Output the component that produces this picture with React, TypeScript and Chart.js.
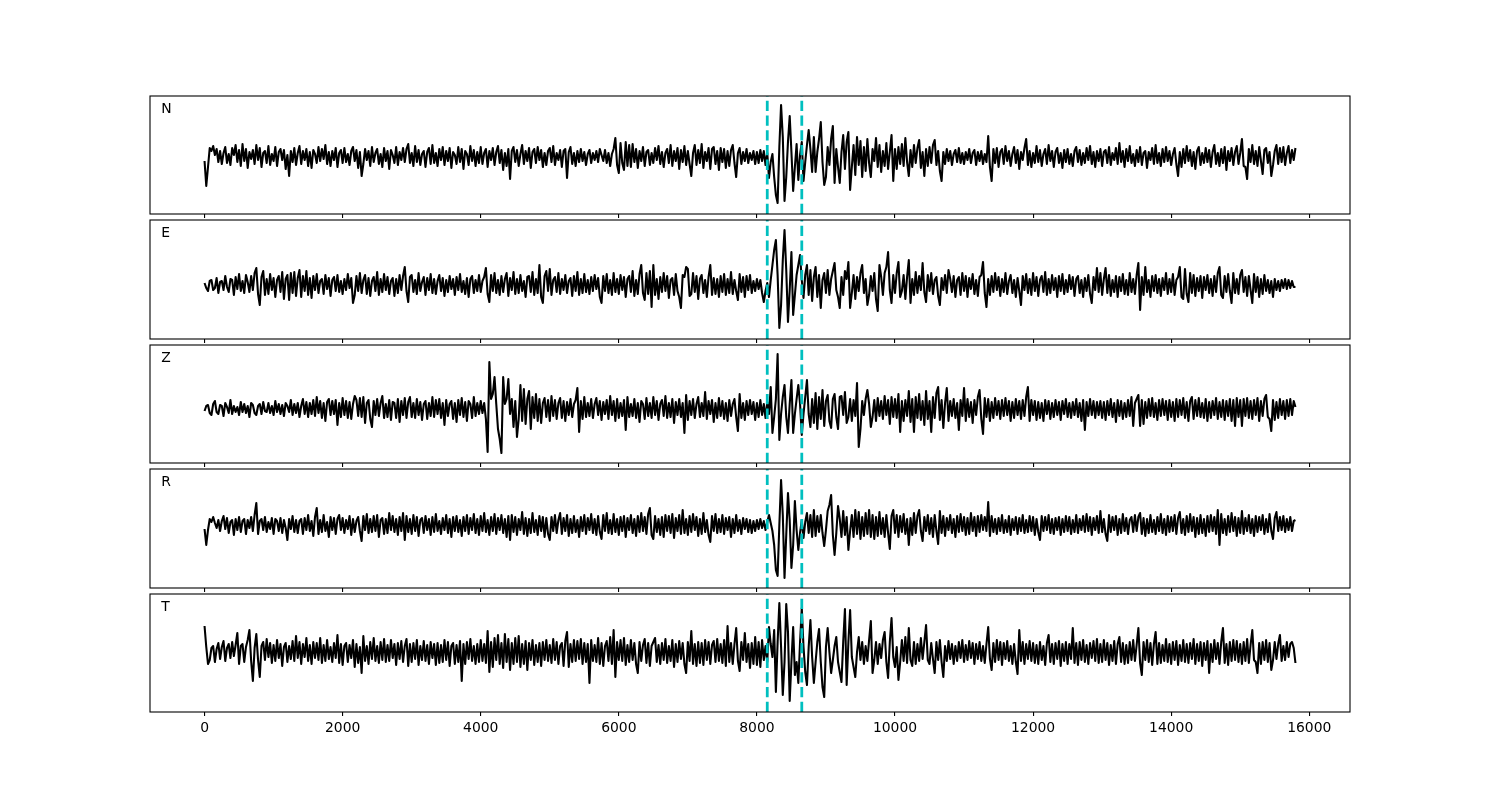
import React, { useEffect, useRef } from "react";
import { Chart, registerables } from "chart.js";

Chart.register(...registerables);

// ---- data ----
const SAMPLE_STEP = 25; // data units between samples
const pickTimes = [8150, 8650];
const xTicks = [0, 2000, 4000, 6000, 8000, 10000, 12000, 14000, 16000];
const panelNames = ["N", "E", "Z", "R", "T"];

const traceN = [
  -4,-29,-10,9,6,11,2,8,-5,6,-7,4,10,-6,3,-8,9,2,12,-5,
  7,-9,13,-4,8,-11,5,-2,7,-7,12,-3,9,-10,4,6,-6,11,-8,3,
  -4,10,-9,5,8,-3,7,-12,2,-19,6,-5,9,-8,4,11,-7,6,-3,8,
  -9,5,-11,7,3,-6,10,-4,8,-2,12,-7,5,-9,6,-3,9,-10,4,7,
  -6,9,-5,3,-8,6,10,-4,7,-11,5,-19,-7,8,-3,6,-9,10,-5,4,
  8,-7,3,-10,9,-4,6,-12,7,2,-6,10,-8,5,-3,9,-5,8,13,-6,
  4,-9,11,-5,7,-8,3,6,-10,5,9,-7,12,-6,4,-9,8,-3,10,-8,
  6,-4,9,-11,5,2,-7,10,-5,8,-12,6,3,-8,11,-4,7,-9,5,-6,
  10,-7,4,8,-10,6,-3,9,-8,5,11,-6,7,-13,4,-9,8,-22,6,10,
  -5,7,-9,3,12,-7,6,-4,9,-11,5,8,-6,10,-3,7,-10,4,-8,6,
  9,-5,11,-8,4,-3,7,-10,6,8,-21,5,10,-7,4,-9,6,-5,8,-4,
  5,-8,3,7,-6,4,-3,6,-5,8,2,-4,7,-6,4,-9,3,8,19,-8,
  -16,14,-6,-13,15,-9,12,-10,13,-5,8,-11,6,-4,10,-9,5,7,-8,4,
  -6,9,-3,11,-7,5,-10,4,8,-6,12,-9,6,-4,9,-12,7,-5,11,-8,
  6,-7,-19,4,12,-8,7,-6,13,-11,5,-4,9,-12,8,10,-7,6,-13,9,
  -5,8,-11,6,-9,7,12,-6,-20,4,9,-7,5,-4,8,-6,4,-3,6,-7,
  5,-6,7,-4,6,-8,4,-21,-5,3,-20,-38,-46,10,52,20,-44,-20,15,41,
  5,-34,-10,13,-23,2,15,-24,-5,12,27,8,-15,20,-15,5,18,35,-5,-28,
  -20,10,-8,18,31,-26,8,-10,-26,5,22,-12,15,25,-33,-10,12,-18,20,-8,
  16,-20,10,-14,18,-6,-20,8,-4,19,-10,12,-15,6,-9,14,-12,5,22,-24,
  8,-12,10,-7,13,-9,19,-5,-19,7,-10,12,-6,9,17,-11,5,-19,8,-9,
  10,-6,12,17,-8,6,-14,-24,5,-7,8,-4,6,-8,3,7,-5,9,-6,4,
  -7,5,-3,8,-6,4,7,-8,5,-4,6,-7,3,-5,21,-10,-24,8,-6,9,
  -10,5,8,-7,11,-4,6,-9,3,10,-6,7,-12,5,-3,9,18,-8,6,-10,
  4,-6,11,-5,7,-9,3,8,-7,12,-4,6,-10,5,9,-6,4,-11,7,-5,
  8,-7,3,-9,6,10,-5,7,-8,4,-6,9,-3,11,-7,5,-10,6,-4,8,
  -9,5,7,-6,10,-8,4,-3,9,-7,14,-5,6,-10,8,-4,11,-6,3,-9,
  7,-5,10,-8,4,6,-11,5,-3,9,-7,12,-6,4,-9,8,-5,10,-4,6,
  -8,3,9,-7,-19,5,-10,8,-6,11,-4,7,-9,5,-12,6,10,-8,4,-6,
  9,-5,7,-10,5,12,-7,4,-9,8,-6,10,-13,6,-4,9,-8,5,11,-7,
  4,18,-9,-10,-22,8,-5,12,-7,6,-9,10,-4,-17,7,9,-6,5,-19,-8,
  6,12,-7,9,-5,10,-8,4,11,-6,7,-3,9,
];

const traceE = [
  2,-3,-6,4,5,-5,-3,7,-8,3,4,-5,9,-2,-7,6,5,-10,8,-4,
  11,-6,4,-8,10,3,-7,9,-5,12,17,-9,-20,8,14,-10,6,-9,11,-5,
  7,-12,5,9,-7,13,-14,6,10,-15,12,-8,13,-11,7,15,-12,9,-6,14,
  -10,7,-13,9,-5,11,-8,4,6,-9,10,-4,7,-11,5,8,-6,10,-7,4,
  -9,6,-5,11,-3,7,-18,-10,9,-6,12,-8,5,10,-9,7,-11,4,8,-6,
  13,-10,6,-7,11,-5,8,-9,4,7,-11,6,-8,10,-5,9,18,-6,-17,8,
  10,-7,5,-9,12,-6,3,8,-10,7,-5,11,-8,6,-9,4,10,-6,7,-11,
  5,-7,9,-4,6,-10,8,-5,11,-7,4,-9,7,-12,6,9,-8,5,-6,10,
  -7,4,8,17,-9,-17,10,-6,12,-8,5,-10,9,-7,6,12,-11,7,-5,13,
  -9,6,-8,10,-6,4,-12,8,9,-7,13,-10,6,-8,20,-12,-18,9,14,-6,
  16,-10,5,8,-7,12,-9,6,-5,10,-8,4,7,-11,9,-6,13,-10,6,-8,
  11,-7,5,-9,8,-6,10,-4,7,-12,-18,9,-6,11,-8,5,-10,12,-7,6,
  -9,10,-5,8,-12,6,9,-7,14,-11,5,-9,11,20,-8,-15,12,-9,14,-22,
  20,-10,6,-14,8,-7,12,-6,9,-13,5,7,-10,11,-6,-12,-23,10,8,18,
  16,-11,-9,12,-7,9,-14,6,10,-8,5,-12,8,20,-10,7,-9,6,-12,9,
  -7,11,-10,6,-8,13,-9,5,-6,-15,11,-7,8,-12,9,-5,10,-8,4,-6,
  6,-4,5,-8,-17,-6,2,-12,5,20,35,45,10,-43,-20,25,55,15,-37,-5,
  33,-30,-10,10,20,30,5,-13,10,20,-10,15,-16,8,18,-12,10,-23,5,12,
  -8,15,-10,6,14,22,-5,-12,-23,8,-10,14,6,23,-23,-8,10,-14,8,-6,
  12,20,-8,6,-20,-10,9,-6,12,-14,-26,20,8,-10,12,18,33,-5,-18,10,
  -8,12,23,-12,-6,10,-14,8,25,-18,6,-10,13,-8,9,-5,22,-7,-17,10,
  -6,12,-9,5,8,-11,-20,7,-5,10,-8,15,6,-7,9,-12,5,8,-10,12,
  -6,9,-12,7,-4,11,-9,5,-11,8,10,23,-8,-22,6,-10,9,-7,12,-5,
  8,-11,6,-7,12,-9,4,10,-8,5,-12,7,-6,-20,9,-5,11,-8,6,-10,
  12,-6,8,-11,5,9,-7,13,-10,6,-8,10,-5,7,-12,9,-6,11,-9,5,
  -7,10,-4,8,-11,6,9,-8,5,-12,7,-6,10,-9,-18,8,-5,17,-7,12,
  -10,6,17,-8,10,-11,5,-7,9,-12,8,-6,11,-9,5,-10,12,-7,6,-9,
  10,22,-25,8,-10,18,-7,5,-12,9,-6,10,-8,6,-11,7,-5,12,-9,6,
  -7,11,-10,5,8,18,-12,-14,16,-9,-17,12,-8,10,-11,7,-6,9,-13,8,
  -5,10,-8,6,-11,9,-7,12,18,-10,-13,9,-7,11,-6,-18,12,-8,6,-9,
  10,15,-7,8,-11,9,-5,-18,11,-7,8,-12,6,-9,10,-6,5,-8,4,-12,
  6,-5,4,-6,5,-3,6,-4,5,-3,4,-2,-2,
];

const traceZ = [
  -2,3,4,-4,-6,5,8,-3,-5,4,3,-7,6,2,-4,9,-5,3,-3,2,
  -6,7,-3,5,-4,3,-8,6,4,-4,-6,3,5,-5,7,-2,-3,6,-4,3,
  -6,8,-3,5,-5,4,-7,6,3,-3,9,-6,5,-4,6,-8,3,10,-5,7,
  -8,6,-5,9,-7,12,-4,8,-9,6,-12,7,10,-6,8,-5,9,-16,6,-8,
  11,-6,8,-9,7,-10,5,13,9,-7,11,-8,12,-14,6,9,-10,-18,8,-6,
  10,-7,6,13,-9,5,-8,9,-11,7,6,-9,10,-13,8,-6,11,-9,7,12,
  -8,6,-9,10,-6,7,-11,5,8,-10,6,-7,12,-8,9,-5,10,-9,6,-16,
  9,-7,5,8,-10,6,-13,9,-6,11,-8,7,-12,8,5,-9,12,-7,6,-5,
  8,-4,6,-10,-43,47,10,15,32,5,-20,-30,-44,32,5,10,30,-5,10,-18,
  8,-28,-10,24,-12,20,-15,10,18,-20,12,-9,15,-12,10,-14,6,11,-8,9,
  -12,13,-7,9,-10,6,11,-9,8,-12,7,-6,10,-8,5,9,21,-23,8,-10,
  12,-8,6,-7,10,-9,5,11,-6,8,-11,7,-5,9,-10,13,-6,8,-12,10,
  -9,6,-7,9,-21,12,-8,5,-7,10,-9,6,-13,8,5,-10,11,-7,6,-9,
  12,-6,8,-11,5,9,-7,13,-9,6,-8,10,-14,7,-6,10,-8,6,-24,14,
  -11,8,-6,10,-9,5,12,-8,6,-7,17,-10,8,-5,9,-13,6,-9,11,-7,
  8,-10,6,-12,9,-7,5,10,-8,-22,15,-9,6,-11,8,-6,9,-5,7,-11,
  6,-8,9,-6,5,-9,7,-5,22,-24,-8,10,55,-31,-5,12,24,-8,-24,5,
  29,-24,-5,10,24,5,-26,-5,12,29,-5,-18,10,-14,16,-20,12,-10,19,-17,
  8,14,-12,-19,10,15,-8,-20,12,13,-6,17,-14,-8,10,-12,9,-7,26,-38,
  -20,8,-6,10,19,5,-18,-8,9,-12,11,-7,8,-10,13,-6,9,-15,12,-8,
  10,-9,15,-23,8,-12,9,-7,18,-13,10,-23,12,-9,15,-11,8,-16,18,-10,
  8,-23,12,-9,16,22,-11,9,-19,6,21,-12,8,-7,10,-9,6,-21,9,-7,
  21,-12,10,-8,7,-14,9,-6,12,19,-10,-25,11,-8,10,-12,7,-9,11,-6,
  8,-10,9,-7,11,-6,8,-12,7,-9,10,-6,8,-10,9,-7,12,22,-12,9,
  -6,8,-11,7,-9,6,-12,9,-5,8,-10,6,-8,9,-6,7,-11,8,-5,10,
  -8,6,-9,7,-6,10,-8,6,-12,9,-21,7,-7,10,-6,8,-9,7,-6,8,
  -9,7,-11,8,-6,10,-8,6,-13,9,-7,8,-10,6,-8,9,-7,12,-17,6,
  10,14,-17,9,-15,7,-9,10,-7,11,-8,6,-11,9,-7,10,-6,8,-11,9,
  -8,7,-12,10,-8,9,-6,11,-9,7,-12,8,12,-10,9,-7,11,-8,6,-9,
  10,-12,7,-9,8,-6,11,-10,7,-8,9,-11,8,-7,10,-12,9,-17,11,-8,
  9,-17,10,-7,11,-9,8,-10,9,-6,11,-12,8,-7,10,14,-8,-10,-22,9,
  -11,7,-9,10,-6,8,-10,9,-7,10,-6,8,2,
];

const traceR = [
  -4,-20,-5,6,3,8,2,-3,5,-6,4,9,-4,7,-8,3,5,-10,6,-5,
  8,-7,4,6,-9,5,-3,8,-6,10,22,-9,4,6,-5,8,-7,3,-4,7,
  -9,6,4,-6,7,-8,5,-3,-15,6,-4,9,-7,5,-8,4,6,-9,7,-5,
  10,-6,4,-11,8,17,-9,5,-7,10,-6,3,-12,8,-5,7,-9,6,10,-5,
  7,-8,5,-4,9,-10,6,-7,4,8,-6,-16,9,-5,11,-8,6,-7,9,-6,
  10,-12,5,7,-9,6,-8,12,-5,9,-7,6,-10,8,-6,12,-15,9,-7,6,
  -9,10,-6,8,-11,5,7,-8,9,-5,6,-10,8,-7,11,-6,4,-9,7,-5,
  10,-8,6,-12,8,-6,9,-7,5,-11,8,-6,10,-9,7,-5,11,-8,6,-10,
  9,-6,12,-7,5,-10,8,-6,11,-9,7,-5,10,-8,6,-12,9,-15,10,-7,
  8,-10,6,-5,13,-9,7,-11,6,-8,12,-7,5,-10,9,-6,8,-12,7,-9,
  -15,8,-6,10,-8,5,12,-9,7,-6,10,-11,6,-8,9,-7,5,-12,8,-6,
  10,-9,7,-5,11,-8,6,-10,9,-7,-14,10,-6,12,-8,5,-9,11,-7,6,
  -10,8,-6,9,-12,7,-5,10,-8,6,-11,9,-7,12,-6,8,-9,11,17,-10,
  -14,9,-7,6,-10,8,-12,10,-6,9,-8,11,-13,7,-6,10,-9,15,-8,6,
  -10,9,-7,11,-5,8,-11,6,-9,12,-7,5,-10,-17,9,-6,11,-8,6,-7,
  10,-9,7,-5,8,-12,6,-8,10,-6,5,-9,7,-4,6,-7,5,-8,4,-6,
  5,-4,6,-3,4,-5,3,10,2,-6,-20,-45,-51,0,45,10,-53,-10,32,5,
  -43,-20,24,-5,-25,-8,5,-13,3,12,-8,10,-12,15,-11,9,-7,10,-8,-21,
  -5,14,20,30,-10,-30,-8,19,6,-12,14,-10,8,-25,-6,10,-12,15,-9,13,
  -14,8,-11,12,-9,15,-12,10,-14,8,-11,13,-9,7,-12,10,-8,-24,9,15,
  -8,10,-12,9,-7,11,-9,6,-20,7,-10,12,-8,9,15,-6,-16,8,-6,10,
  -9,7,-12,10,-6,-19,14,-8,9,-11,7,-5,10,-8,6,-12,9,-7,11,-6,
  8,-10,7,-9,12,-6,8,-11,9,-7,10,-5,8,-6,23,-11,9,-7,6,-9,
  7,-6,10,-8,5,-7,9,-10,6,-5,8,-9,7,-6,10,-8,5,-7,9,-6,
  8,-10,6,-7,-15,9,-6,8,-5,10,-8,6,-9,7,-5,8,-10,6,-7,9,
  -6,8,-9,5,-7,10,-8,6,-5,9,-7,11,-6,8,-10,7,-5,9,-8,14,
  -7,6,-9,-16,10,-7,8,-5,9,-10,6,-8,11,-6,7,-9,5,8,-7,10,
  -6,8,12,-9,7,-11,6,-8,10,-7,5,-9,8,-6,11,-8,6,-10,9,-7,
  8,-6,10,-9,7,13,-8,6,-10,9,-7,11,-6,8,-12,7,-9,10,-8,6,
  -11,9,-7,10,-6,8,-9,15,-20,11,-8,6,-10,9,-7,12,-6,8,-11,7,
  -8,14,-9,7,-6,10,-8,6,-11,9,-7,8,-5,10,-9,6,-7,11,-6,-14,
  7,13,-6,8,-5,9,-7,6,-5,8,-6,4,5,
];

const traceT = [
  26,5,-12,-8,4,6,-10,3,9,-7,5,11,-9,4,8,-6,10,-4,7,19,
  -12,6,8,-10,5,12,22,-9,-29,4,18,-8,-25,6,10,-8,13,-5,9,-11,
  7,-9,12,-6,8,-14,5,9,-10,6,-7,11,-9,16,-6,10,-12,8,-5,14,
  -9,7,-12,10,-6,9,-8,14,-11,7,-9,12,-7,5,-10,9,-6,17,-11,8,
  -13,6,9,-10,7,-6,12,-15,8,-11,5,-21,16,-9,6,-12,10,-7,14,-9,
  6,-11,10,-8,13,-10,7,-9,12,-6,8,-13,9,-7,11,-10,6,13,-14,8,
  -10,9,-7,12,-13,6,-8,11,-9,7,-12,10,-6,8,-13,9,-11,7,-10,12,
  -8,10,-14,6,9,-12,7,-10,11,-29,8,-12,10,-7,13,-9,6,-12,8,-10,
  12,-9,8,-11,21,-20,10,-15,14,-8,17,-12,9,-16,18,-10,13,-18,9,-12,
  14,-10,16,-15,8,-12,11,-18,9,-8,12,-13,7,-10,9,-14,10,-8,12,-9,
  7,-11,13,-8,10,-12,6,9,-14,11,20,-15,8,-10,12,-9,11,-7,13,-12,
  9,-10,8,-31,12,-9,7,-10,14,-12,9,-14,6,11,-9,15,-12,22,-25,10,
  -8,12,-9,14,-13,7,-10,12,-8,9,-12,-21,10,-9,7,13,-11,9,-14,6,
  10,14,-10,7,-12,9,-8,13,-11,6,-9,12,-15,8,-10,11,-7,9,-12,-21,
  10,-9,21,-12,8,-14,10,-11,9,-13,12,-8,10,-12,7,11,-10,13,-9,8,
  -11,12,-14,26,-10,9,-12,8,24,-9,-19,10,-8,19,-10,8,-16,9,-12,15,
  -13,10,-15,12,-8,6,-10,25,8,-5,22,-40,10,49,5,-43,-10,48,20,-49,
  -10,25,-23,-10,-31,10,44,5,-20,-33,5,32,-5,-31,-10,10,23,-10,-35,-45,
  5,24,0,-21,-8,6,15,-10,-20,-30,10,43,-33,10,42,-5,-15,-25,0,15,
  -8,10,-12,6,-9,12,31,-21,-8,10,-12,8,-6,12,20,-10,-26,10,34,-5,
  -15,5,-28,-10,12,-9,15,-11,24,-8,-14,10,-12,8,-9,14,-7,10,27,-8,
  -12,9,-7,-21,10,-8,12,-10,-25,6,-9,11,-7,8,-12,6,-9,10,-6,12,
  -10,7,-8,11,-6,9,-12,8,-7,10,-9,6,-11,8,25,-7,-18,9,-10,12,
  -8,10,-13,9,-7,11,-9,6,-12,8,-10,-22,22,-9,10,-12,8,-7,11,-9,
  9,-11,7,-12,10,-8,6,-13,9,17,-10,8,-12,9,-7,11,-14,8,-9,10,
  -12,8,-7,24,-11,9,-13,10,-8,12,-10,7,-12,9,-6,11,-9,13,-11,8,
  -10,12,-8,9,-13,7,-9,11,-12,8,15,-10,9,-12,7,-11,10,-8,12,-9,
  7,24,-11,-23,10,-8,12,-10,9,-13,8,20,-12,9,-11,7,-9,13,-10,8,
  -12,10,-8,11,-13,7,-9,12,-10,8,-11,9,-7,13,-12,8,-9,10,-14,9,
  -8,11,-21,8,-10,12,-7,9,-12,10,24,-11,8,-13,10,-9,12,-8,11,-10,
  8,-12,10,-9,13,-11,7,22,-8,-10,-21,9,-12,10,-8,12,-10,9,-18,-8,
  10,-7,8,17,-9,6,-8,10,-5,8,10,4,-11,
];

const traces = [traceN, traceE, traceZ, traceR, traceT];
// y-axis limits for each panel (min, max)
const yMins = [-57, -54, -54, -63, -60];
const yMaxs = [61, 65, 64, 56, 58];
const X_MIN = -790;
const X_MAX = 16590;

// ---- layout ----
const panelTops = [96, 220, 345, 469, 594];
const panelHeights = [118, 119, 118, 119, 118];
const PAD_TOP = 10;
const PAD_SIDE = 50;
const CANVAS_LEFT = 100;
const CANVAS_WIDTH = 1300;

function makeFramePlugin(name: string) {
  return {
    id: "frameAndLabel",
    afterDraw(chart: any) {
      const { ctx, chartArea } = chart;
      const { left, top, right, bottom } = chartArea;
      ctx.save();
      ctx.strokeStyle = "#000";
      ctx.lineWidth = 1.1;
      ctx.strokeRect(left, top, right - left, bottom - top);
      ctx.fillStyle = "#000";
      ctx.font = '13.9px "DejaVu Sans"';
      ctx.textBaseline = "alphabetic";
      ctx.textAlign = "left";
      ctx.fillText(name, left + 11.3, top + 17);
      ctx.restore();
    },
  };
}

function Panel({ idx }: { idx: number }) {
  const ref = useRef<HTMLCanvasElement | null>(null);
  const isBottom = idx === panelNames.length - 1;
  const bottomSpace = isBottom ? 40 : 6;
  const H = PAD_TOP + panelHeights[idx] + bottomSpace;

  useEffect(() => {
    if (!ref.current) return;
    const trace = traces[idx];
    const ymin = yMins[idx];
    const ymax = yMaxs[idx];
    const chart = new Chart(ref.current, {
      type: "line",
      data: {
        datasets: [
          ...pickTimes.map((t) => ({
            data: [
              { x: t, y: ymin },
              { x: t, y: ymax },
            ],
            borderColor: "#00bfbf",
            borderWidth: 2.78,
            borderDash: [10.3, 4.4],
            pointRadius: 0,
            fill: false,
            order: 0,
          })),
          {
            data: trace.map((v, i) => ({ x: i * SAMPLE_STEP, y: v })),
            borderColor: "#000000",
            borderWidth: 2.08,
            borderJoinStyle: "round",
            pointRadius: 0,
            tension: 0,
            fill: false,
            order: 1,
          },
        ],
      },
      options: {
        responsive: false,
        maintainAspectRatio: false,
        animation: false,
        events: [],
        layout: { padding: { left: PAD_SIDE, right: PAD_SIDE, top: PAD_TOP, bottom: 0 } },
        plugins: { legend: { display: false }, tooltip: { enabled: false } },
        scales: {
          x: {
            type: "linear",
            position: "bottom",
            min: X_MIN,
            max: X_MAX,
            afterBuildTicks: (scale: any) => {
              scale.ticks = xTicks.map((v) => ({ value: v }));
            },
            afterFit: (scale: any) => {
              scale.height = bottomSpace;
            },
            border: { display: false },
            grid: {
              display: true,
              drawOnChartArea: false,
              drawTicks: true,
              tickLength: 4,
              color: "#000",
              lineWidth: 1.1,
            },
            ticks: {
              display: isBottom,
              color: "#000",
              font: { family: "DejaVu Sans", size: 13.9 },
              padding: 4,
              maxRotation: 0,
              autoSkip: false,
              callback: (v: any) => String(v),
            },
          },
          y: { type: "linear", display: false, min: ymin, max: ymax },
        },
      },
      plugins: [makeFramePlugin(panelNames[idx])],
    } as any);
    return () => chart.destroy();
  }, [idx]);

  return (
    <canvas
      ref={ref}
      width={CANVAS_WIDTH}
      height={H}
      style={{
        position: "absolute",
        left: CANVAS_LEFT,
        top: panelTops[idx] - PAD_TOP,
        width: CANVAS_WIDTH,
        height: H,
      }}
    />
  );
}

export default function App() {
  return (
    <div
      style={{
        position: "absolute",
        left: 0,
        top: 0,
        width: 1500,
        height: 800,
        background: "#ffffff",
      }}
    >
      {panelNames.map((_, i) => (
        <Panel key={i} idx={i} />
      ))}
    </div>
  );
}
